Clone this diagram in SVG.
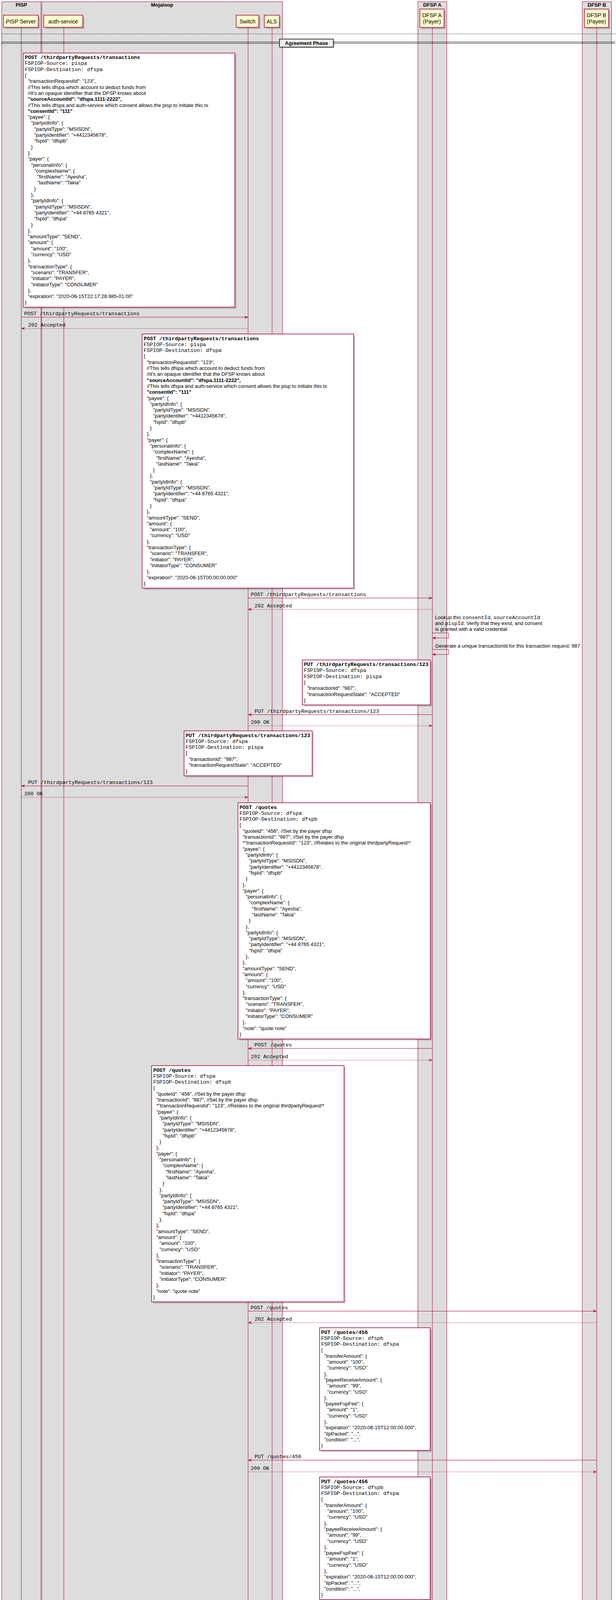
<svg xmlns="http://www.w3.org/2000/svg" width="1578" height="7750" viewBox="0 0 1578 7750">
<defs>
<style>
text{font-family:"Liberation Sans",Arial,sans-serif;font-size:13px;fill:#000}
.m{font-family:"Liberation Mono","Courier New",monospace;font-size:13.3px}
.b{font-weight:bold}
.t{font-size:14px}
.n{fill:#fff;stroke:#A80036;stroke-width:1.5}
.y{fill:#FBFB77;stroke:#A80036;stroke-width:1}
.pt{fill:#FEFECE;stroke:#A80036;stroke-width:1.5}
.bx{fill:#DDDDDD;stroke:#A80036;stroke-width:1}
.ll{stroke:#A80036;stroke-width:1}
.a{stroke:#A80036;stroke-width:1;fill:none;marker-end:url(#ah)}
.d{stroke-dasharray:2,2}
.dot{stroke:#000;stroke-width:1;stroke-dasharray:2,2}
.s{fill:#000;opacity:0.2}
</style>
<marker id="ah" viewBox="0 0 10 8" refX="10" refY="4" markerWidth="10" markerHeight="8" markerUnits="userSpaceOnUse" orient="auto"><path d="M0,0 L10,4 L0,8 L4,4 Z" fill="#A80036"/></marker>
</defs>
<rect width="1578" height="7750" fill="#fff"/>

<g id="box-pisp"><rect class="bx" x="4.5" y="4.5" width="100.5" height="7736"/><text class="b" x="54.7" y="17" text-anchor="middle">PISP</text></g>
<g id="box-mojaloop"><rect class="bx" x="107" y="4.5" width="616.5" height="7736"/><text class="b" x="415.2" y="17" text-anchor="middle">Mojaloop</text></g>
<g id="box-dfspa"><rect class="bx" x="1070.5" y="4.5" width="74" height="7736"/><text class="b" x="1107.5" y="17" text-anchor="middle">DFSP A</text></g>
<g id="box-dfspb"><rect class="bx" x="1491.5" y="4.5" width="75" height="7736"/><text class="b" x="1529" y="17" text-anchor="middle">DFSP B</text></g>

<g id="p-pisp-server">
<line class="ll" x1="54.5" y1="70" x2="54.5" y2="7685"/>
<rect class="s" x="13" y="42.8" width="89" height="31.1"/>
<rect class="pt" x="9" y="38.8" width="89" height="31.1"/>
<text class="t" x="53.5" y="59.5" text-anchor="middle">PISP Server</text>
<rect class="s" x="13" y="7689" width="89" height="33"/>
<rect class="pt" x="9" y="7685" width="89" height="33"/>
<text class="t" x="53.5" y="7706.5" text-anchor="middle">PISP Server</text>
</g>
<g id="p-auth-service">
<line class="ll" x1="163.5" y1="70" x2="163.5" y2="7685"/>
<rect class="s" x="116" y="42.8" width="100" height="31.1"/>
<rect class="pt" x="112" y="38.8" width="100" height="31.1"/>
<text class="t" x="162" y="59.5" text-anchor="middle">auth-service</text>
<rect class="s" x="116" y="7689" width="100" height="33"/>
<rect class="pt" x="112" y="7685" width="100" height="33"/>
<text class="t" x="162" y="7706.5" text-anchor="middle">auth-service</text>
</g>
<g id="p-switch">
<line class="ll" x1="635.5" y1="70" x2="635.5" y2="7685"/>
<rect class="s" x="609" y="42.8" width="58" height="31.1"/>
<rect class="pt" x="605" y="38.8" width="58" height="31.1"/>
<text class="t" x="634" y="59.5" text-anchor="middle">Switch</text>
<rect class="s" x="609" y="7689" width="58" height="33"/>
<rect class="pt" x="605" y="7685" width="58" height="33"/>
<text class="t" x="634" y="7706.5" text-anchor="middle">Switch</text>
</g>
<g id="p-als">
<line class="ll" x1="697" y1="70" x2="697" y2="7685"/>
<rect class="s" x="681" y="42.8" width="38.5" height="31.1"/>
<rect class="pt" x="677" y="38.8" width="38.5" height="31.1"/>
<text class="t" x="696.2" y="59.5" text-anchor="middle">ALS</text>
<rect class="s" x="681" y="7689" width="38.5" height="33"/>
<rect class="pt" x="677" y="7685" width="38.5" height="33"/>
<text class="t" x="696.2" y="7706.5" text-anchor="middle">ALS</text>
</g>
<g id="p-dfspa">
<line class="ll" x1="1107.5" y1="70" x2="1107.5" y2="7685"/>
<rect class="s" x="1079.5" y="27.3" width="62" height="47"/>
<rect class="pt" x="1075.5" y="23.3" width="62" height="47"/>
<text class="t" x="1106.5" y="44" text-anchor="middle">DFSP A</text>
<text class="t" x="1106.5" y="60" text-anchor="middle">(Payer)</text>
<rect class="s" x="1079.5" y="7689" width="62" height="46.6"/>
<rect class="pt" x="1075.5" y="7685" width="62" height="46.6"/>
<text class="t" x="1106.5" y="7705.7" text-anchor="middle">DFSP A</text>
<text class="t" x="1106.5" y="7721.7" text-anchor="middle">(Payer)</text>
</g>
<g id="p-dfspb">
<line class="ll" x1="1528.5" y1="70" x2="1528.5" y2="7685"/>
<rect class="s" x="1501" y="27.3" width="62" height="47"/>
<rect class="pt" x="1497" y="23.3" width="62" height="47"/>
<text class="t" x="1528" y="44" text-anchor="middle">DFSP B</text>
<text class="t" x="1528" y="60" text-anchor="middle">(Payee)</text>
<rect class="s" x="1501" y="7689" width="62" height="46.6"/>
<rect class="pt" x="1497" y="7685" width="62" height="46.6"/>
<text class="t" x="1528" y="7705.7" text-anchor="middle">DFSP B</text>
<text class="t" x="1528" y="7721.7" text-anchor="middle">(Payee)</text>
</g>

<line class="dot" x1="3" y1="86.7" x2="1578" y2="86.7"/>
<line class="dot" x1="3" y1="7674.5" x2="1578" y2="7674.5"/>

<g id="divider-agreement">
<line x1="3" y1="107.5" x2="1576" y2="107.5" stroke="#000" stroke-width="1"/>
<line x1="3" y1="111" x2="1576" y2="111" stroke="#000" stroke-width="1"/>
<rect class="s" x="719" y="103" width="138" height="20.5"/>
<rect x="716" y="100" width="138" height="20.5" fill="#EEEEEE" stroke="#000" stroke-width="1.5"/>
<text class="b" x="785" y="115" text-anchor="middle">Agreement Phase</text>
</g>

<g id="connectors">
<line class="a" x1="54.5" y1="812" x2="635.5" y2="812"/><text class="m" x="62" y="807">POST /thirdpartyRequests/transactions</text>
<line class="a d" x1="635.5" y1="841" x2="54.5" y2="841"/><text class="m" x="72" y="836">202 Accepted</text>
<line class="a" x1="635.5" y1="1531" x2="1107.5" y2="1531"/><text class="m" x="642.6" y="1526">POST /thirdpartyRequests/transactions</text>
<line class="a d" x1="1107.5" y1="1560" x2="635.5" y2="1560"/><text class="m" x="652" y="1555">202 Accepted</text>
<path class="a" d="M1107.5,1620.3 H1149.5 V1633.3 H1107.5"/>
<text x="1114.5" y="1584.5">Lookup this <tspan class="m">consentId</tspan>, <tspan class="m">sourceAccountId</tspan></text>
<text x="1114.5" y="1600">and <tspan class="m">pispId</tspan>. Verify that they exist, and consent</text>
<text x="1114.5" y="1615">is granted with a valid credential</text>
<path class="a" d="M1107.5,1662.7 H1149.5 V1675.5 H1107.5"/>
<text x="1114.5" y="1657.8">Generate a unique transactionId for this transaction request: 987</text>
<line class="a" x1="1107.5" y1="1829.5" x2="635.5" y2="1829.5"/><text class="m" x="652" y="1824.5">PUT /thirdpartyRequests/transactions/123</text>
<line class="a d" x1="635.5" y1="1858" x2="1107.5" y2="1858"/><text class="m" x="642.6" y="1853">200 OK</text>
<line class="a" x1="635.5" y1="2012" x2="54.5" y2="2012"/><text class="m" x="72" y="2007">PUT /thirdpartyRequests/transactions/123</text>
<line class="a d" x1="54.5" y1="2041" x2="635.5" y2="2041"/><text class="m" x="62" y="2036">200 OK</text>
<line class="a" x1="1107.5" y1="2684" x2="635.5" y2="2684"/><text class="m" x="652" y="2679">POST /quotes</text>
<line class="a d" x1="635.5" y1="2714" x2="1107.5" y2="2714"/><text class="m" x="642.6" y="2709">202 Accepted</text>
<line class="a" x1="635.5" y1="3356.5" x2="1528.5" y2="3356.5"/><text class="m" x="642" y="3351.5">POST /quotes</text>
<line class="a d" x1="1528.5" y1="3386" x2="635.5" y2="3386"/><text class="m" x="652" y="3381">202 Accepted</text>
<line class="a" x1="1528.5" y1="3738" x2="635.5" y2="3738"/><text class="m" x="652" y="3733">PUT /quotes/456</text>
<line class="a d" x1="635.5" y1="3768" x2="1528.5" y2="3768"/><text class="m" x="642" y="3763">200 OK</text>
<line class="a" x1="635.5" y1="4121.5" x2="1107.5" y2="4121.5"/><text class="m" x="642.6" y="4116.5">PUT /quotes/456</text>
<line class="a d" x1="1107.5" y1="4150" x2="635.5" y2="4150"/><text class="m" x="652.5" y="4145">200 OK</text>
<line class="a" x1="1107.5" y1="4757" x2="635.5" y2="4757"/><text class="m" x="652.5" y="4752">POST /authorizations</text>
<line class="a d" x1="635.5" y1="4786" x2="1107.5" y2="4786"/><text class="m" x="642.6" y="4781">202 Accepted</text>
<line class="a" x1="635.5" y1="5322.4" x2="54.5" y2="5322.4"/><text class="m" x="72.3" y="5317.4">POST /authorizations</text>
<line class="a d" x1="54.5" y1="5352" x2="635.5" y2="5352"/><text class="m" x="62" y="5347">202 Accepted</text>
<line class="a" x1="54.5" y1="5652.4" x2="635.5" y2="5652.4"/><text class="m" x="62" y="5647.4">PUT /authorizations/123</text>
<line class="a d" x1="635.5" y1="5681" x2="54.5" y2="5681"/><text class="m" x="72.3" y="5676">200 OK</text>
<line class="a" x1="635.5" y1="5927.4" x2="1107.5" y2="5927.4"/><text class="m" x="642.3" y="5922.4">PUT /authorizations/123</text>
<line class="a d" x1="1107.5" y1="5956" x2="635.5" y2="5956"/><text class="m" x="652.6" y="5951">200 OK</text>
<text x="1114.5" y="5980">Lookup the <tspan class="m">thirdpartyRequests/transaction</tspan></text>
<text x="1114.5" y="5995.8">request, get the <tspan class="m">consentId</tspan> and <tspan class="m">sourceAccountId</tspan></text>
<path class="a" d="M1107.5,6000.7 H1149.5 V6013.3 H1107.5"/>
<text x="1114.5" y="6037.5">Confirm pispId from <tspan class="m">PUT /authorizations/123</tspan></text>
<text x="1118" y="6053.3">matches the <tspan class="m">thirdpartyRequests/transaction</tspan></text>
<path class="a" d="M1107.5,6058.8 H1149.5 V6071.3 H1107.5"/>
<line class="a" x1="1107.5" y1="6417" x2="635.5" y2="6417"/><text class="m" x="652.3" y="6412">POST /thirdpartyRequests/transactions/123/authorizations</text>
<line class="a d" x1="635.5" y1="6445.8" x2="1107.5" y2="6445.8"/><text class="m" x="642.4" y="6440.8">202 Accepted</text>
<line class="a" x1="635.5" y1="6768.2" x2="163.5" y2="6768.2"/><text class="m" x="180" y="6763.2">POST /thirdpartyRequests/transactions/123/authorizations</text>
<line class="a d" x1="163.5" y1="6798" x2="635.5" y2="6798"/><text class="m" x="169.6" y="6793">202 Accepted</text>
<text x="169.6" y="6822.5">Lookup this consent based on consentId</text>
<path class="a" d="M163.5,6827.9 H205 V6840.2 H163.5"/>
<text x="169.6" y="6865">Ensure the sourceAccountId matches what is in Consent</text>
<path class="a" d="M163.5,6869.6 H205 V6882 H163.5"/>
<text x="169.6" y="6906.7">Check that the signed bytes match the</text>
<text x="169.6" y="6922.8">publickey we have stored for the consent</text>
<path class="a" d="M163.5,6927.5 H205 V6940 H163.5"/>
<line class="a" x1="163.5" y1="7247.4" x2="635.5" y2="7247.4"/><text class="m" x="170" y="7242.4">PUT /thirdpartyRequests/transactions/123/authorizations</text>
<line class="a d" x1="635.5" y1="7276.3" x2="163.5" y2="7276.3"/><text class="m" x="180.6" y="7271.3">200 OK</text>
<line class="a" x1="635.5" y1="7583.5" x2="1107.5" y2="7583.5"/><text class="m" x="642" y="7578.5">PUT /thirdpartyRequests/transactions/123/authorizations</text>
<line class="a d" x1="1107.5" y1="7612.4" x2="635.5" y2="7612.4"/><text class="m" x="652" y="7607.4">200 OK</text>
</g>

<g id="note1" transform="translate(59.5,135.7)">
<rect class="s" x="4" y="4" width="542" height="650.6"/>
<rect class="n" width="542" height="650.6"/>
<text class="m b" x="4" y="15.5">POST /thirdpartyRequests/transactions</text>
<text class="m" x="4" y="30.8">FSPIOP-Source: pispa</text>
<text class="m" x="4" y="46.1">FSPIOP-Destination: dfspa</text>
<text x="4" y="61.4">{</text>
<text x="12" y="76.7">"transactionRequestId": "123",</text>
<text x="12" y="92">//This tells dfspa which account to deduct funds from</text>
<text x="12" y="107.3">//it's an opaque identifier that the DFSP knows about</text>
<text class="b" x="12" y="122.6">"sourceAccountId": "dfspa.1111-2222",</text>
<text x="12" y="137.9">//This tells dfspa and auth-service which consent allows the pisp to initiate this tx</text>
<text class="b" x="12" y="153.2">"consentId": "111"</text>
<text x="12" y="168.5">"payee": {</text>
<text x="20" y="183.8">"partyIdInfo": {</text>
<text x="28" y="199.1">"partyIdType": "MSISDN",</text>
<text x="28" y="214.4">"partyIdentifier": "+4412345678",</text>
<text x="28" y="229.7">"fspId": "dfspb"</text>
<text x="20" y="245">}</text>
<text x="12" y="260.3">},</text>
<text x="12" y="275.6">"payer": {</text>
<text x="20" y="290.9">"personalInfo": {</text>
<text x="28" y="306.2">"complexName": {</text>
<text x="36" y="321.5">"firstName": "Ayesha",</text>
<text x="36" y="336.8">"lastName": "Takia"</text>
<text x="28" y="352.1">}</text>
<text x="20" y="367.4">},</text>
<text x="20" y="382.7">"partyIdInfo": {</text>
<text x="28" y="398">"partyIdType": "MSISDN",</text>
<text x="28" y="413.3">"partyIdentifier": "+44 8765 4321",</text>
<text x="28" y="428.6">"fspId": "dfspa"</text>
<text x="20" y="443.9">}</text>
<text x="12" y="459.2">},</text>
<text x="12" y="474.5">"amountType": "SEND",</text>
<text x="12" y="489.8">"amount": {</text>
<text x="20" y="505.1">"amount": "100",</text>
<text x="20" y="520.4">"currency": "USD"</text>
<text x="12" y="535.7">},</text>
<text x="12" y="551">"transactionType": {</text>
<text x="20" y="566.3">"scenario": "TRANSFER",</text>
<text x="20" y="581.6">"initiator": "PAYER",</text>
<text x="20" y="596.9">"initiatorType": "CONSUMER"</text>
<text x="12" y="612.2">},</text>
<text x="12" y="627.5">"expiration": "2020-06-15T22:17:28.985-01:00"</text>
<text x="4" y="642.8">}</text>
</g>

<g id="note2" transform="translate(364,855)">
<rect class="s" x="4" y="4" width="542" height="650.6"/>
<rect class="n" width="542" height="650.6"/>
<text class="m b" x="4" y="15.5">POST /thirdpartyRequests/transactions</text>
<text class="m" x="4" y="30.8">FSPIOP-Source: pispa</text>
<text class="m" x="4" y="46.1">FSPIOP-Destination: dfspa</text>
<text x="4" y="61.4">{</text>
<text x="12" y="76.7">"transactionRequestId": "123",</text>
<text x="12" y="92">//This tells dfspa which account to deduct funds from</text>
<text x="12" y="107.3">//it's an opaque identifier that the DFSP knows about</text>
<text class="b" x="12" y="122.6">"sourceAccountId": "dfspa.1111-2222",</text>
<text x="12" y="137.9">//This tells dfspa and auth-service which consent allows the pisp to initiate this tx</text>
<text class="b" x="12" y="153.2">"consentId": "111"</text>
<text x="12" y="168.5">"payee": {</text>
<text x="20" y="183.8">"partyIdInfo": {</text>
<text x="28" y="199.1">"partyIdType": "MSISDN",</text>
<text x="28" y="214.4">"partyIdentifier": "+4412345678",</text>
<text x="28" y="229.7">"fspId": "dfspb"</text>
<text x="20" y="245">}</text>
<text x="12" y="260.3">},</text>
<text x="12" y="275.6">"payer": {</text>
<text x="20" y="290.9">"personalInfo": {</text>
<text x="28" y="306.2">"complexName": {</text>
<text x="36" y="321.5">"firstName": "Ayesha",</text>
<text x="36" y="336.8">"lastName": "Takia"</text>
<text x="28" y="352.1">}</text>
<text x="20" y="367.4">},</text>
<text x="20" y="382.7">"partyIdInfo": {</text>
<text x="28" y="398">"partyIdType": "MSISDN",</text>
<text x="28" y="413.3">"partyIdentifier": "+44 8765 4321",</text>
<text x="28" y="428.6">"fspId": "dfspa"</text>
<text x="20" y="443.9">}</text>
<text x="12" y="459.2">},</text>
<text x="12" y="474.5">"amountType": "SEND",</text>
<text x="12" y="489.8">"amount": {</text>
<text x="20" y="505.1">"amount": "100",</text>
<text x="20" y="520.4">"currency": "USD"</text>
<text x="12" y="535.7">},</text>
<text x="12" y="551">"transactionType": {</text>
<text x="20" y="566.3">"scenario": "TRANSFER",</text>
<text x="20" y="581.6">"initiator": "PAYER",</text>
<text x="20" y="596.9">"initiatorType": "CONSUMER"</text>
<text x="12" y="612.2">},</text>
<text x="12" y="627.5">"expiration": "2020-06-15T00:00:00.000"</text>
<text x="4" y="642.8">}</text>
</g>

<g id="note3" transform="translate(774.4,1689.5)">
<rect class="s" x="4" y="4" width="328.2" height="115.1"/>
<rect class="n" width="328.2" height="115.1"/>
<text class="m b" x="4" y="15.5">PUT /thirdpartyRequests/transactions/123</text>
<text class="m" x="4" y="30.8">FSPIOP-Source: dfspa</text>
<text class="m" x="4" y="46.1">FSPIOP-Destination: pispa</text>
<text x="4" y="61.4">{</text>
<text x="12" y="76.7">"transactionId": "987",</text>
<text x="12" y="92">"transactionRequestState": "ACCEPTED"</text>
<text x="4" y="107.3">}</text>
</g>

<g id="note4" transform="translate(471.5,1871)">
<rect class="s" x="4" y="4" width="328.2" height="115.1"/>
<rect class="n" width="328.2" height="115.1"/>
<text class="m b" x="4" y="15.5">PUT /thirdpartyRequests/transactions/123</text>
<text class="m" x="4" y="30.8">FSPIOP-Source: dfspa</text>
<text class="m" x="4" y="46.1">FSPIOP-Destination: pispa</text>
<text x="4" y="61.4">{</text>
<text x="12" y="76.7">"transactionId": "987",</text>
<text x="12" y="92">"transactionRequestState": "ACCEPTED"</text>
<text x="4" y="107.3">}</text>
</g>

<g id="note5" transform="translate(609.6,2055)">
<rect class="s" x="4" y="4" width="493" height="604.7"/>
<rect class="n" width="493" height="604.7"/>
<text class="m b" x="4" y="15.5">POST /quotes</text>
<text class="m" x="4" y="30.8">FSPIOP-Source: dfspa</text>
<text class="m" x="4" y="46.1">FSPIOP-Destination: dfspb</text>
<text x="4" y="61.4">{</text>
<text x="12" y="76.7">"quoteId": "456", //Set by the payer dfsp</text>
<text x="12" y="92">"transactionId": "987", //Set by the payer dfsp</text>
<text x="12" y="107.3">*"transactionRequestId": "123", //Relates to the original thirdpartyRequest!*</text>
<text x="12" y="122.6">"payee": {</text>
<text x="20" y="137.9">"partyIdInfo": {</text>
<text x="28" y="153.2">"partyIdType": "MSISDN",</text>
<text x="28" y="168.5">"partyIdentifier": "+4412345678",</text>
<text x="28" y="183.8">"fspId": "dfspb"</text>
<text x="20" y="199.1">}</text>
<text x="12" y="214.4">},</text>
<text x="12" y="229.7">"payer": {</text>
<text x="20" y="245">"personalInfo": {</text>
<text x="28" y="260.3">"complexName": {</text>
<text x="36" y="275.6">"firstName": "Ayesha",</text>
<text x="36" y="290.9">"lastName": "Takia"</text>
<text x="28" y="306.2">}</text>
<text x="20" y="321.5">},</text>
<text x="20" y="336.8">"partyIdInfo": {</text>
<text x="28" y="352.1">"partyIdType": "MSISDN",</text>
<text x="28" y="367.4">"partyIdentifier": "+44 8765 4321",</text>
<text x="28" y="382.7">"fspId": "dfspa"</text>
<text x="20" y="398">},</text>
<text x="12" y="413.3">},</text>
<text x="12" y="428.6">"amountType": "SEND",</text>
<text x="12" y="443.9">"amount": {</text>
<text x="20" y="459.2">"amount": "100",</text>
<text x="20" y="474.5">"currency": "USD"</text>
<text x="12" y="489.8">},</text>
<text x="12" y="505.1">"transactionType": {</text>
<text x="20" y="520.4">"scenario": "TRANSFER",</text>
<text x="20" y="535.7">"initiator": "PAYER",</text>
<text x="20" y="551">"initiatorType": "CONSUMER"</text>
<text x="12" y="566.3">},</text>
<text x="12" y="581.6">"note": "quote note"</text>
<text x="4" y="596.9">}</text>
</g>

<g id="note6" transform="translate(388.4,2728)">
<rect class="s" x="4" y="4" width="493" height="604.7"/>
<rect class="n" width="493" height="604.7"/>
<text class="m b" x="4" y="15.5">POST /quotes</text>
<text class="m" x="4" y="30.8">FSPIOP-Source: dfspa</text>
<text class="m" x="4" y="46.1">FSPIOP-Destination: dfspb</text>
<text x="4" y="61.4">{</text>
<text x="12" y="76.7">"quoteId": "456", //Set by the payer dfsp</text>
<text x="12" y="92">"transactionId": "987", //Set by the payer dfsp</text>
<text x="12" y="107.3">*"transactionRequestId": "123", //Relates to the original thirdpartyRequest!*</text>
<text x="12" y="122.6">"payee": {</text>
<text x="20" y="137.9">"partyIdInfo": {</text>
<text x="28" y="153.2">"partyIdType": "MSISDN",</text>
<text x="28" y="168.5">"partyIdentifier": "+4412345678",</text>
<text x="28" y="183.8">"fspId": "dfspb"</text>
<text x="20" y="199.1">}</text>
<text x="12" y="214.4">},</text>
<text x="12" y="229.7">"payer": {</text>
<text x="20" y="245">"personalInfo": {</text>
<text x="28" y="260.3">"complexName": {</text>
<text x="36" y="275.6">"firstName": "Ayesha",</text>
<text x="36" y="290.9">"lastName": "Takia"</text>
<text x="28" y="306.2">}</text>
<text x="20" y="321.5">},</text>
<text x="20" y="336.8">"partyIdInfo": {</text>
<text x="28" y="352.1">"partyIdType": "MSISDN",</text>
<text x="28" y="367.4">"partyIdentifier": "+44 8765 4321",</text>
<text x="28" y="382.7">"fspId": "dfspa"</text>
<text x="20" y="398">},</text>
<text x="12" y="413.3">},</text>
<text x="12" y="428.6">"amountType": "SEND",</text>
<text x="12" y="443.9">"amount": {</text>
<text x="20" y="459.2">"amount": "100",</text>
<text x="20" y="474.5">"currency": "USD"</text>
<text x="12" y="489.8">},</text>
<text x="12" y="505.1">"transactionType": {</text>
<text x="20" y="520.4">"scenario": "TRANSFER",</text>
<text x="20" y="535.7">"initiator": "PAYER",</text>
<text x="20" y="551">"initiatorType": "CONSUMER"</text>
<text x="12" y="566.3">},</text>
<text x="12" y="581.6">"note": "quote note"</text>
<text x="4" y="596.9">}</text>
</g>

<g id="note7" transform="translate(818.5,3399)">
<rect class="s" x="4" y="4" width="283.5" height="314"/>
<rect class="n" width="283.5" height="314"/>
<text class="m b" x="4" y="15.5">PUT /quotes/456</text>
<text class="m" x="4" y="30.8">FSPIOP-Source: dfspb</text>
<text class="m" x="4" y="46.1">FSPIOP-Destination: dfspa</text>
<text x="4" y="61.4">{</text>
<text x="12" y="76.7">"transferAmount": {</text>
<text x="20" y="92">"amount": "100",</text>
<text x="20" y="107.3">"currency": "USD"</text>
<text x="12" y="122.6">},</text>
<text x="12" y="137.9">"payeeReceiveAmount": {</text>
<text x="20" y="153.2">"amount": "99",</text>
<text x="20" y="168.5">"currency": "USD"</text>
<text x="12" y="183.8">},</text>
<text x="12" y="199.1">"payeeFspFee": {</text>
<text x="20" y="214.4">"amount": "1",</text>
<text x="20" y="229.7">"currency": "USD"</text>
<text x="12" y="245">},</text>
<text x="12" y="260.3">"expiration": "2020-06-15T12:00:00.000",</text>
<text x="12" y="275.6">"ilpPacket": "...",</text>
<text x="12" y="290.9">"condition": "...",</text>
<text x="4" y="306.2">}</text>
</g>

<g id="note8" transform="translate(818.5,3781)">
<rect class="s" x="4" y="4" width="283.5" height="314"/>
<rect class="n" width="283.5" height="314"/>
<text class="m b" x="4" y="15.5">PUT /quotes/456</text>
<text class="m" x="4" y="30.8">FSPIOP-Source: dfspb</text>
<text class="m" x="4" y="46.1">FSPIOP-Destination: dfspa</text>
<text x="4" y="61.4">{</text>
<text x="12" y="76.7">"transferAmount": {</text>
<text x="20" y="92">"amount": "100",</text>
<text x="20" y="107.3">"currency": "USD"</text>
<text x="12" y="122.6">},</text>
<text x="12" y="137.9">"payeeReceiveAmount": {</text>
<text x="20" y="153.2">"amount": "99",</text>
<text x="20" y="168.5">"currency": "USD"</text>
<text x="12" y="183.8">},</text>
<text x="12" y="199.1">"payeeFspFee": {</text>
<text x="20" y="214.4">"amount": "1",</text>
<text x="20" y="229.7">"currency": "USD"</text>
<text x="12" y="245">},</text>
<text x="12" y="260.3">"expiration": "2020-06-15T12:00:00.000",</text>
<text x="12" y="275.6">"ilpPacket": "...",</text>
<text x="12" y="290.9">"condition": "...",</text>
<text x="4" y="306.2">}</text>
</g>

<g id="note-dfspa-has-quote">
<path class="s" transform="translate(4,4)" d="M830,4163.5 H1088.7 L1098.7,4173.5 V4203 H830 Z"/>
<path class="y" d="M830,4163.5 H1088.7 L1098.7,4173.5 V4203 H830 Z"/>
<path class="y" d="M1088.7,4163.5 V4173.5 H1098.7"/>
<text x="836.6" y="4180.5">DFSPA has the quote, they can now ask</text>
<text x="836.6" y="4196.5">the PISP for authorization</text>
</g>

<g id="note9" transform="translate(810.7,4218.4)">
<rect class="s" x="4" y="4" width="292" height="512.9"/>
<rect class="n" width="292" height="512.9"/>
<text class="m b" x="4" y="15.5">POST /authorizations</text>
<text class="m" x="4" y="30.8">FSPIOP-Source: dfspa</text>
<text class="m" x="4" y="46.1">FSPIOP-Destination: pispa</text>
<text x="4" y="61.4">{</text>
<text x="12" y="76.7">//transactionRequestId is our 'primary key'</text>
<text x="12" y="92">//to refer to this authorization</text>
<text class="b" x="12" y="107.3">"transactionRequestId": "123",</text>
<text x="12" y="122.6">"authenticationType": "U2F",</text>
<text x="12" y="137.9">"retriesLeft": "1",</text>
<text x="12" y="153.2">"amount": {</text>
<text x="20" y="168.5">"amount": "100",</text>
<text x="20" y="183.8">"currency": "USD"</text>
<text x="12" y="199.1">},</text>
<text x="12" y="214.4">"transactionId": "987",</text>
<text x="12" y="229.7">"quote": {</text>
<text x="20" y="245">//TODO: do we need quoteId here?</text>
<text x="20" y="260.3">"transferAmount": {</text>
<text x="28" y="275.6">"amount": "100",</text>
<text x="28" y="290.9">"currency": "USD"</text>
<text x="20" y="306.2">},</text>
<text x="20" y="321.5">"payeeReceiveAmount": {</text>
<text x="28" y="336.8">"amount": "99",</text>
<text x="28" y="352.1">"currency": "USD"</text>
<text x="20" y="367.4">},</text>
<text x="20" y="382.7">"payeeFspFee": {</text>
<text x="28" y="398">"amount": "1",</text>
<text x="28" y="413.3">"currency": "USD"</text>
<text x="20" y="428.6">},</text>
<text x="20" y="443.9">"expiration": "2020-06-15T12:00:00.000",</text>
<text x="20" y="459.2">"ilpPacket": "...",</text>
<text x="20" y="474.5">"condition": "...",</text>
<text x="12" y="489.8">}</text>
<text x="4" y="505.1">}</text>
</g>

<g id="note10" transform="translate(489,4799.5)">
<rect class="s" x="4" y="4" width="292" height="497.6"/>
<rect class="n" width="292" height="497.6"/>
<text class="m b" x="4" y="15.5">POST /authorizations</text>
<text class="m" x="4" y="30.8">FSPIOP-Source: dfspa</text>
<text class="m" x="4" y="46.1">FSPIOP-Destination: pispa</text>
<text x="4" y="61.4">{</text>
<text x="12" y="76.7">//transactionRequestId is our 'primary key'</text>
<text x="12" y="92">//to refer to this authorization</text>
<text class="b" x="12" y="107.3">"transactionRequestId": "123",</text>
<text x="12" y="122.6">"authenticationType": "U2F",</text>
<text x="12" y="137.9">"retriesLeft": "1",</text>
<text x="12" y="153.2">"amount": {</text>
<text x="20" y="168.5">"amount": "100",</text>
<text x="20" y="183.8">"currency": "USD"</text>
<text x="12" y="199.1">},</text>
<text x="12" y="214.4">"transactionId": "987",</text>
<text x="12" y="229.7">"quote": {</text>
<text x="20" y="245">"transferAmount": {</text>
<text x="28" y="260.3">"amount": "100",</text>
<text x="28" y="275.6">"currency": "USD"</text>
<text x="20" y="290.9">},</text>
<text x="20" y="306.2">"payeeReceiveAmount": {</text>
<text x="28" y="321.5">"amount": "99",</text>
<text x="28" y="336.8">"currency": "USD"</text>
<text x="20" y="352.1">},</text>
<text x="20" y="367.4">"payeeFspFee": {</text>
<text x="28" y="382.7">"amount": "1",</text>
<text x="28" y="398">"currency": "USD"</text>
<text x="20" y="413.3">},</text>
<text x="20" y="428.6">"expiration": "2020-06-15T12:00:00.000",</text>
<text x="20" y="443.9">"ilpPacket": "...",</text>
<text x="20" y="459.2">"condition": "...",</text>
<text x="12" y="474.5">}</text>
<text x="4" y="489.8">}</text>
</g>

<g id="note-pisp-checks">
<path class="s" transform="translate(4,4)" d="M59.7,5365.4 H402 L412,5375.4 V5405.6 H59.7 Z"/>
<path class="y" d="M59.7,5365.4 H402 L412,5375.4 V5405.6 H59.7 Z"/>
<path class="y" d="M402,5365.4 V5375.4 H412"/>
<text x="65.4" y="5383">PISP checks the quote with the user,</text>
<text x="65.4" y="5398.5">and uses FIDO to sign the the QuoteResponse object</text>
</g>

<g id="note11" transform="translate(59.7,5419.4)">
<rect class="s" x="4" y="4" width="466.7" height="206.9"/>
<rect class="n" width="466.7" height="206.9"/>
<text class="m b" x="4" y="15.5">PUT /authorizations/123</text>
<text class="m" x="4" y="30.8">FSPIOP-Source: pispa</text>
<text class="m" x="4" y="46.1">FSPIOP-Destination: dfspa</text>
<text x="4" y="61.4">{</text>
<text x="12" y="76.7">"authenticationInfo": {</text>
<text x="20" y="92">"authentication": "U2F",</text>
<text x="20" y="107.3">"authenticationValue": {</text>
<text x="28" y="122.6">"pinValue": "&lt;base64 encoded binary - the signed QuoteResponse&gt;",</text>
<text x="28" y="137.9">"counter": "1"</text>
<text x="20" y="153.2">}</text>
<text x="12" y="168.5">}</text>
<text x="12" y="183.8">"responseType": "ENTERED"</text>
<text x="4" y="199.1">}</text>
</g>

<g id="note12" transform="translate(401.8,5694.3)">
<rect class="s" x="4" y="4" width="466.7" height="206.9"/>
<rect class="n" width="466.7" height="206.9"/>
<text class="m b" x="4" y="15.5">PUT /authorizations/123</text>
<text class="m" x="4" y="30.8">FSPIOP-Source: pispa</text>
<text class="m" x="4" y="46.1">FSPIOP-Destination: dfspa</text>
<text x="4" y="61.4">{</text>
<text x="12" y="76.7">"authenticationInfo": {</text>
<text x="20" y="92">"authentication": "U2F",</text>
<text x="20" y="107.3">"authenticationValue": {</text>
<text x="28" y="122.6">"pinValue": "&lt;base64 encoded binary - the signed QuoteResponse&gt;",</text>
<text x="28" y="137.9">"counter": "1"</text>
<text x="20" y="153.2">}</text>
<text x="12" y="168.5">}</text>
<text x="12" y="183.8">"responseType": "ENTERED"</text>
<text x="4" y="199.1">}</text>
</g>

<g id="note-switch-signed">
<path class="s" transform="translate(4,4)" d="M878.4,6084.4 H1322.8 L1332.8,6094.4 V6124 H878.4 Z"/>
<path class="y" d="M878.4,6084.4 H1322.8 L1332.8,6094.4 V6124 H878.4 Z"/>
<path class="y" d="M1322.8,6084.4 V6094.4 H1332.8"/>
<text x="884" y="6102">Switch has the signed condition</text>
<text x="884" y="6117">For 3rd party FIDO, it now needs to make sure everything checks out</text>
</g>

<g id="note13" transform="translate(483.4,6139.3)">
<rect class="s" x="4" y="4" width="619" height="252.8"/>
<rect class="n" width="619" height="252.8"/>
<text class="m b" x="4" y="15.5">POST /thirdpartyRequests/transactions/123/authorizations</text>
<text class="m" x="4" y="30.8">FSPIOP-Source: dfspa</text>
<text class="m" x="4" y="46.1">FSPIOP-Destination: central-auth</text>
<text x="4" y="61.4">{</text>
<text x="12" y="76.7">//from <tspan class="m">PUT /quotes/456</tspan> callback</text>
<text x="12" y="92">"challenge": "&lt;QuoteResponse object&gt;",</text>
<text x="12" y="122.6">//from <tspan class="m">PUT /authorizations/123</tspan> callback: .authenticationInfo.authenticationValue.pinValue</text>
<text x="12" y="137.9">"value": "&lt;base64 encoded binary - the signed quote response object&gt;",</text>
<text x="12" y="168.5">//from <tspan class="m">thirdpartyRequests/transactions</tspan> body</text>
<text x="12" y="183.8">"consentId": "111",</text>
<text x="12" y="214.4">//from <tspan class="m">thirdpartyRequests/transactions</tspan> body</text>
<text x="12" y="229.7">"sourceAccountId": "dfspa.1111-2222"</text>
<text x="4" y="245">}</text>
</g>

<g id="note14" transform="translate(325,6459.3)">
<rect class="s" x="4" y="4" width="619.6" height="283.4"/>
<rect class="n" width="619.6" height="283.4"/>
<text class="m b" x="4" y="15.5">POST /thirdpartyRequests/transactions/123/authorizations</text>
<text class="m" x="4" y="30.8">FSPIOP-Source: dfspa</text>
<text class="m" x="4" y="46.1">FSPIOP-Destination: central-auth</text>
<text x="4" y="61.4">{</text>
<text x="12" y="76.7">//from <tspan class="m">PUT /quotes/456</tspan> callback</text>
<text x="12" y="92">"challenge": "&lt;QuoteResponse object&gt;",</text>
<text x="12" y="122.6">//from <tspan class="m">PUT /authorizations/123</tspan> callback: .authenticationInfo.authenticationValue.pinValue</text>
<text x="12" y="137.9">"value": "&lt;base64 encoded binary - the signed quote response object&gt;",</text>
<text x="12" y="168.5">//from <tspan class="m">thirdpartyRequests/transactions</tspan> body</text>
<text x="12" y="183.8">"consentId": "111",</text>
<text x="12" y="214.4">//from <tspan class="m">thirdpartyRequests/transactions</tspan> body</text>
<text x="12" y="229.7">"sourceAccountId": "dfspa.1111-2222",</text>
<text x="12" y="260.3">"status": "PENDING"</text>
<text x="4" y="275.6">}</text>
</g>

<g id="note15" transform="translate(168.4,6953.2)">
<rect class="s" x="4" y="4" width="471.6" height="268.1"/>
<rect class="n" width="471.6" height="268.1"/>
<text class="m b" x="4" y="15.5">PUT /thirdpartyRequests/transactions/123/authorizations</text>
<text class="m" x="4" y="30.8">FSPIOP-Source: central-auth</text>
<text class="m" x="4" y="46.1">FSPIOP-Destination: dfspa</text>
<text x="4" y="61.4">{</text>
<text x="12" y="76.7">//from the <tspan class="m">PUT /quotes/456</tspan> callback</text>
<text x="12" y="92">"challenge": "&lt;QuoteResponse object&gt;",</text>
<text x="12" y="122.6">//from the <tspan class="m">PUT /authorizations/123</tspan> callback</text>
<text x="12" y="137.9">"value": "&lt;base64 encoded binary - the signed quote response object&gt;",</text>
<text x="12" y="168.5">//from the <tspan class="m">thirdpartyRequests/transactions</tspan> body</text>
<text x="12" y="183.8">"consentId": "111",</text>
<text x="12" y="214.4">//from the <tspan class="m">thirdpartyRequests/transactions</tspan> body</text>
<text x="12" y="229.7">"sourceAccountId": "dfspa.1111-2222"</text>
<text x="12" y="245">"status": "VERIFIED"</text>
<text x="4" y="260.3">}</text>
</g>

<g id="note16" transform="translate(399.5,7289.3)">
<rect class="s" x="4" y="4" width="471.6" height="268.1"/>
<rect class="n" width="471.6" height="268.1"/>
<text class="m b" x="4" y="15.5">PUT /thirdpartyRequests/transactions/123/authorizations</text>
<text class="m" x="4" y="30.8">FSPIOP-Source: central-auth</text>
<text class="m" x="4" y="46.1">FSPIOP-Destination: dfspa</text>
<text x="4" y="61.4">{</text>
<text x="12" y="76.7">//from the <tspan class="m">PUT /quotes/456</tspan> callback</text>
<text x="12" y="92">"challenge": "&lt;QuoteResponse object&gt;",</text>
<text x="12" y="122.6">//from the <tspan class="m">PUT /authorizations/123</tspan> callback</text>
<text x="12" y="137.9">"value": "&lt;base64 encoded binary - the signed quote response object&gt;",</text>
<text x="12" y="168.5">//from the <tspan class="m">thirdpartyRequests/transactions</tspan> body</text>
<text x="12" y="183.8">"consentId": "111",</text>
<text x="12" y="214.4">//from the <tspan class="m">thirdpartyRequests/transactions</tspan> body</text>
<text x="12" y="229.7">"sourceAccountId": "dfspa.1111-2222"</text>
<text x="12" y="245">"status": "VERIFIED"</text>
<text x="4" y="260.3">}</text>
</g>

<g id="note-dfspa-knows">
<path class="s" transform="translate(4,4)" d="M920.6,7625.4 H1279.5 L1289.5,7635.4 V7665.4 H920.6 Z"/>
<path class="y" d="M920.6,7625.4 H1279.5 L1289.5,7635.4 V7665.4 H920.6 Z"/>
<path class="y" d="M1279.5,7625.4 V7635.4 H1289.5"/>
<text x="926" y="7643">DFSPA now knows that the user signed this transaction</text>
<text x="926" y="7658.5">and can go ahead and initiate the transfer</text>
</g>
</svg>
